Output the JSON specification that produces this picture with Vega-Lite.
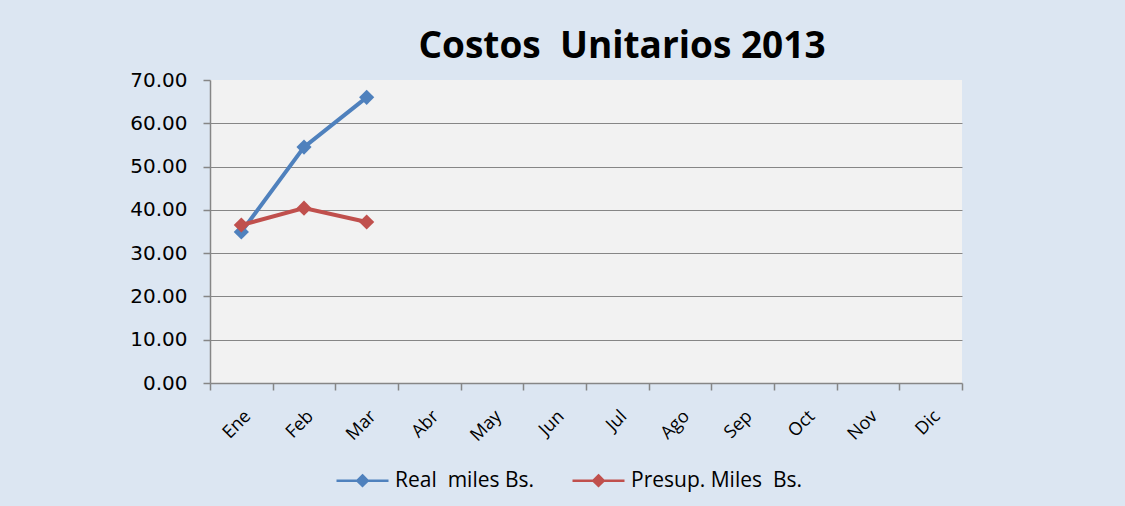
{
  "$schema": "https://vega.github.io/schema/vega-lite/v6.json",
  "width": 752,
  "height": 303,
  "autosize": {"type": "none"},
  "padding": {"left": 210, "top": 80, "right": 163, "bottom": 123},
  "background": "#dce6f2",
  "title": {
    "text": "Costos \u00a0Unitarios 2013",
    "fontSize": 37,
    "font": "Open Sans",
    "fontWeight": "bold",
    "color": "#000000",
    "anchor": "middle",
    "dx": 36,
    "offset": 4
  },
  "data": {
    "values": [
      {"mes": "Ene", "serie": "Real \u00a0miles Bs.", "valor": 34.9},
      {"mes": "Feb", "serie": "Real \u00a0miles Bs.", "valor": 54.5},
      {"mes": "Mar", "serie": "Real \u00a0miles Bs.", "valor": 66.0},
      {"mes": "Ene", "serie": "Presup. Miles \u00a0Bs.", "valor": 36.5},
      {"mes": "Feb", "serie": "Presup. Miles \u00a0Bs.", "valor": 40.4},
      {"mes": "Mar", "serie": "Presup. Miles \u00a0Bs.", "valor": 37.2}
    ]
  },
  "mark": {"type": "line", "strokeWidth": 4, "point": {"shape": "diamond", "size": 230, "filled": true, "opacity": 1}},
  "encoding": {
    "x": {
      "field": "mes",
      "type": "nominal",
      "sort": ["Ene","Feb","Mar","Abr","May","Jun","Jul","Ago","Sep","Oct","Nov","Dic"],
      "scale": {"domain": ["Ene","Feb","Mar","Abr","May","Jun","Jul","Ago","Sep","Oct","Nov","Dic"], "paddingInner": 0, "paddingOuter": 0},
      "axis": {
        "title": null,
        "tickBand": "extent",
        "labelAngle": -45,
        "labelFontSize": 18,
        "labelFont": "Open Sans",
        "labelColor": "#000000",
        "labelPadding": 17,
        "tickSize": 7,
        "tickColor": "#868686",
        "domainColor": "#868686",
        "tickWidth": 1.5,
        "domainWidth": 1.5
      }
    },
    "y": {
      "field": "valor",
      "type": "quantitative",
      "scale": {"domain": [0, 70]},
      "axis": {
        "title": null,
        "values": [0,10,20,30,40,50,60,70],
        "format": ".2f",
        "labelFontSize": 20,
        "labelFont": "DejaVu Sans",
        "labelColor": "#000000",
        "labelPadding": 16,
        "tickSize": 7,
        "tickColor": "#868686",
        "domainColor": "#868686",
        "tickWidth": 1.5,
        "domainWidth": 1.5,
        "gridColor": "#868686",
        "gridWidth": 1.2,
        "gridOpacity": {"condition": {"test": "datum.value === 70 || datum.value === 0", "value": 0}, "value": 1}
      }
    },
    "color": {
      "field": "serie",
      "type": "nominal",
      "sort": ["Real \u00a0miles Bs.", "Presup. Miles \u00a0Bs."],
      "scale": {"domain": ["Real \u00a0miles Bs.", "Presup. Miles \u00a0Bs."], "range": ["#4f81bd", "#c0504d"]},
      "legend": {
        "title": null,
        "orient": "none",
        "direction": "horizontal",
        "legendX": 125,
        "legendY": 373,
        "symbolType": "M-1,0L1,0M0,-0.2L0.2,0L0,0.2L-0.2,0Z",
        "symbolSize": 2704,
        "symbolStrokeWidth": 2.5,
        "labelFontSize": 21,
        "labelFont": "Open Sans",
        "labelColor": "#000000",
        "labelOffset": 5,
        "labelLimit": 400,
        "columnPadding": 32,
        "encode": {"symbols": {"update": {"fill": {"scale": "color", "field": "value"}, "fillOpacity": {"value": 1}}}}
      }
    }
  },
  "config": {
    "view": {"fill": "#f2f2f2", "stroke": null}
  }
}
